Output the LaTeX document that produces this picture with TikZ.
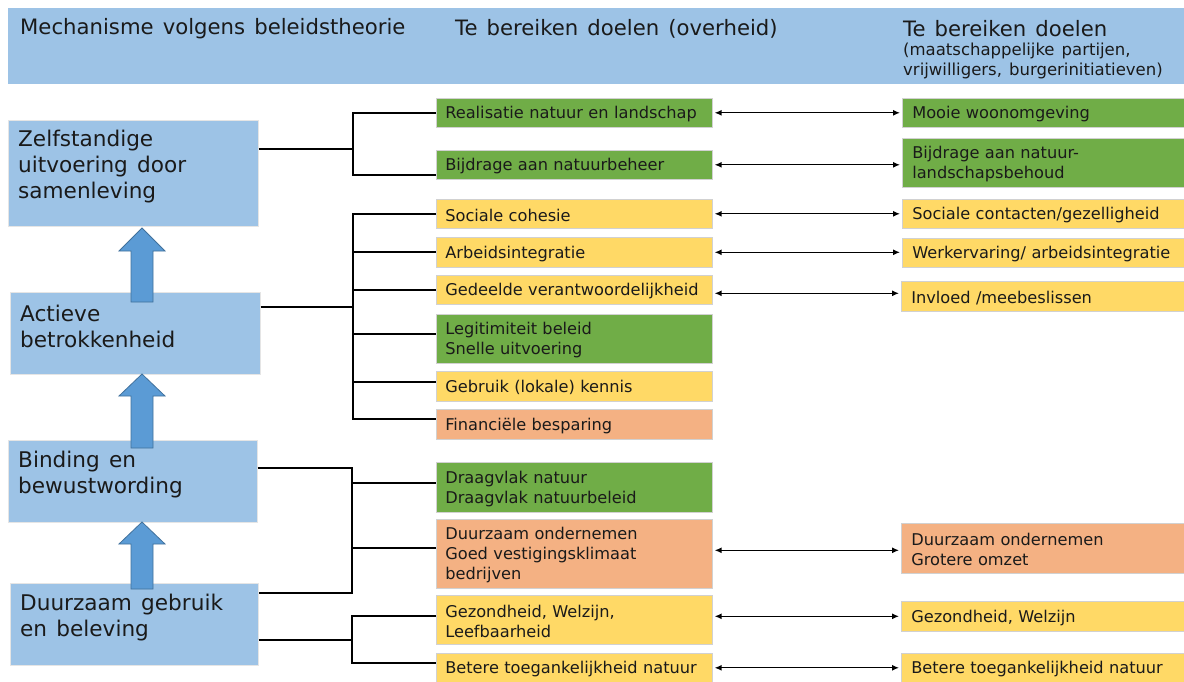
\documentclass[tikz,border=0pt]{standalone}
\usepackage{fontspec}
\setmainfont{DejaVu Sans}[WordSpace=1.35]
\usetikzlibrary{arrows.meta}
\definecolor{hblue}{HTML}{9DC3E6}
\definecolor{ablue}{HTML}{5B9BD5}
\definecolor{aedge}{HTML}{41719C}
\definecolor{cgreen}{HTML}{70AD47}
\definecolor{cyellow}{HTML}{FFD966}
\definecolor{corange}{HTML}{F4B183}
\definecolor{tx}{HTML}{1A1A1A}
\begin{document}
\begin{tikzpicture}[x=1pt,y=-1pt,
  box/.style={rectangle, draw=black!18, line width=0.6pt, inner ysep=0pt, anchor=north west, align=left, text=tx, execute at begin node={\rule{0pt}{15.5pt}}},
  mbox/.style={box, text width=258pt, inner xsep=9pt, font=\fontsize{16.2}{20}\selectfont},
  rbox/.style={box, text width=272pt, inner xsep=10pt, font=\fontsize{16.2}{20}\selectfont},
  lbox/.style={rectangle, fill=hblue, draw=black!10, line width=0.5pt, anchor=north west, inner sep=0pt},
  ltext/.style={anchor=west, align=left, inner sep=0pt, text=tx, font=\fontsize{21.6}{26}\selectfont},
  htext/.style={anchor=west, inner sep=0pt, text=tx, font=\fontsize{21.2}{25}\selectfont},
  stext/.style={anchor=west, align=left, inner sep=0pt, text=tx, font=\fontsize{16.5}{20}\selectfont},
  conn/.style={draw=black, line width=1.8pt},
  darr/.style={draw=black, line width=1.3pt, {Latex[length=7pt,width=6pt]}-{Latex[length=7pt,width=6pt]}, shorten <=2pt, shorten >=2pt},
  barrow/.style={fill=ablue, draw=aedge, line width=0.8pt, line join=miter}
]
\useasboundingbox (0,0) rectangle (1184,682);
\fill[white] (0,0) rectangle (1184,682);

% header
\node[rectangle, fill=hblue, anchor=north west, minimum width=1176pt, minimum height=76pt, inner sep=0pt] (hdr) at (8,8) {};
\node[htext] (h1) at (20,28.5) {Mechanisme volgens beleidstheorie};
\node[htext] (h2) at (455,28.5) {Te bereiken doelen (overheid)};
\node[htext] (h3) at (903,28.5) {Te bereiken doelen};
\node[stext] (h3s) at (903,61) {(maatschappelijke partijen,\\vrijwilligers, burgerinitiatieven)};

% left column
\node[lbox, minimum width=250pt, minimum height=106pt] (L1) at (8,120) {};
\node[lbox, minimum width=250pt, minimum height=82pt] (L2) at (10,292) {};
\node[lbox, minimum width=249pt, minimum height=82pt] (L3) at (8,440) {};
\node[lbox, minimum width=248pt, minimum height=82pt] (L4) at (10,583) {};
\node[ltext] (t1) at (18,167) {Zelfstandige\\uitvoering door\\samenleving};
\node[ltext] (t2) at (20,326) {Actieve\\betrokkenheid};
\node[ltext] (t3) at (18,475) {Binding en\\bewustwording};
\node[ltext] (t4) at (20,618) {Duurzaam gebruik\\en beleving};

% block arrows
\draw[barrow] (142,228) -- (165,251) -- (153,251) -- (153,302) -- (131,302) -- (131,251) -- (119,251) -- cycle;
\draw[barrow] (142,374) -- (165,396) -- (153,396) -- (153,448) -- (131,448) -- (131,396) -- (119,396) -- cycle;
\draw[barrow] (142,522) -- (165,544) -- (153,544) -- (153,589) -- (131,589) -- (131,544) -- (119,544) -- cycle;

% middle column
\node[mbox, fill=cgreen, minimum height=29pt] (M1) at (436,98) {Realisatie natuur en landschap};
\node[mbox, fill=cgreen, minimum height=29pt] (M2) at (436,150) {Bijdrage aan natuurbeheer};
\node[mbox, fill=cyellow, minimum height=29pt] (M3) at (436,199) {Sociale cohesie};
\node[mbox, fill=cyellow, minimum height=30pt] (M4) at (436,237) {Arbeidsintegratie};
\node[mbox, fill=cyellow, minimum height=29pt] (M5) at (436,275) {Gedeelde verantwoordelijkheid};
\node[mbox, fill=cgreen, minimum height=49pt] (M6) at (436,314) {Legitimiteit beleid\\Snelle uitvoering};
\node[mbox, fill=cyellow, minimum height=30pt] (M7) at (436,371) {Gebruik (lokale) kennis};
\node[mbox, fill=corange, minimum height=30pt] (M8) at (436,409) {Financiële besparing};
\node[mbox, fill=cgreen, minimum height=50pt] (M9) at (436,462) {Draagvlak natuur\\Draagvlak natuurbeleid};
\node[mbox, fill=corange, minimum height=69pt] (M10) at (436,519) {Duurzaam ondernemen\\Goed vestigingsklimaat\\bedrijven};
\node[mbox, fill=cyellow, minimum height=49pt] (M11) at (436,595) {Gezondheid, Welzijn,\\Leefbaarheid};
\node[mbox, fill=cyellow, minimum height=29pt] (M12) at (436,653) {Betere toegankelijkheid natuur};

% right column
\node[rbox, fill=cgreen, minimum height=29pt] (R1) at (902,98) {Mooie woonomgeving};
\node[rbox, fill=cgreen, minimum height=49pt] (R2) at (902,138) {Bijdrage aan natuur-\\landschapsbehoud};
\node[rbox, fill=cyellow, minimum height=29pt] (R3) at (902,199) {Sociale contacten/gezelligheid};
\node[rbox, fill=cyellow, minimum height=29pt] (R4) at (902,238) {Werkervaring/ arbeidsintegratie};
\node[rbox, fill=cyellow, minimum height=30pt] (R5) at (901,281) {Invloed /meebeslissen};
\node[rbox, fill=corange, minimum height=50pt] (R10) at (901,523) {Duurzaam ondernemen\\Grotere omzet};
\node[rbox, fill=cyellow, minimum height=30pt] (R11) at (901,601) {Gezondheid, Welzijn};
\node[rbox, fill=cyellow, minimum height=29pt] (R12) at (901,653) {Betere toegankelijkheid natuur};

% bracket connectors
\coordinate (j1) at (353,149);
\coordinate (e2) at ([yshift=-10.5pt]M2.west);
\draw[conn] (L1.east |- j1) -- (j1);
\draw[conn] (M1.west) -| (e2 -| j1) -- (e2);

\coordinate (j2) at (353,307);
\coordinate (e6) at ([yshift=4.5pt]M6.west);
\coordinate (e7) at ([yshift=4pt]M7.west);
\coordinate (e8) at ([yshift=5pt]M8.west);
\draw[conn] (L2.east |- j2) -- (j2);
\draw[conn] (M3.west) -| (e8 -| j2) -- (e8);
\draw[conn] (j2 |- M4.west) -- (M4.west);
\draw[conn] (j2 |- M5.west) -- (M5.west);
\draw[conn] (j2 |- e6) -- (e6);
\draw[conn] (j2 |- e7) -- (e7);

\coordinate (j3) at (352,468);
\coordinate (f4) at ([yshift=-10pt]L4.north east);
\coordinate (e9) at ([yshift=4pt]M9.west);
\coordinate (e10) at ([yshift=5.5pt]M10.west);
\draw[conn] (L3.east |- j3) -| (j3 |- f4) -- (f4);
\draw[conn] (j3 |- e9) -- (e9);
\draw[conn] (j3 |- e10) -- (e10);

\coordinate (j4) at (352,640);
\coordinate (e11) at ([yshift=3.5pt]M11.west);
\coordinate (e12) at ([yshift=4.5pt]M12.west);
\draw[conn] (L4.east |- j4) -- (j4);
\draw[conn] (e11) -| (e12 -| j4) -- (e12);

% double arrows
\coordinate (a5) at ([yshift=-3.5pt]M5.east);
\coordinate (a10) at ([yshift=3.5pt]M10.east);
\draw[darr] (M1.east) -- (R1.west);
\draw[darr] (M2.east) -- (M2.east -| R2.west);
\draw[darr] (M3.east) -- (R3.west);
\draw[darr] (M4.east) -- (M4.east -| R4.west);
\draw[darr] (a5) -- (a5 -| R5.west);
\draw[darr] (a10) -- (a10 -| R10.west);
\draw[darr] (R11.west -| M11.east) -- (R11.west);
\draw[darr] (M12.east) -- (R12.west);
\end{tikzpicture}
\end{document}
